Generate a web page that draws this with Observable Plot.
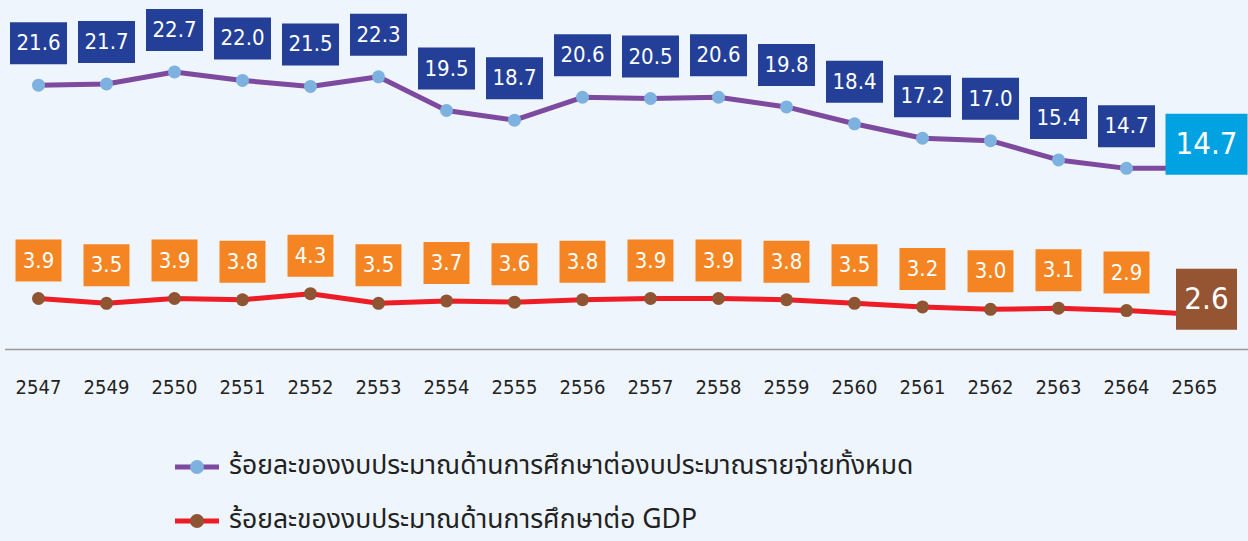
<!DOCTYPE html>
<html>
<head>
<meta charset="utf-8">
<script src="https://cdn.jsdelivr.net/npm/d3@7"></script>
<script src="https://cdn.jsdelivr.net/npm/@observablehq/plot@0.6"></script>
<style>
  html, body { margin: 0; padding: 0; background: #eef5fc; }
  #wrap { width: 1248px; height: 541px; overflow: hidden; background: #eef5fc; }
  .legend { margin-top: 20px; padding-left: 175px; font-family: "Noto Sans Thai", "Tahoma", "DejaVu Sans", sans-serif; color: #222; }
  .row { height: 54px; display: flex; align-items: center; font-size: 26.5px; }
  .row span { display: inline-block; line-height: 1.1; }
  .row svg { margin-right: 10px; }
</style>
</head>
<body>
<div id="wrap"><div id="chart"></div><div class="legend" id="legend"></div></div>
<script>
const years = ["2547","2549","2550","2551","2552","2553","2554","2555","2556","2557","2558","2559","2560","2561","2562","2563","2564","2565"];
const shareOfBudget = [21.6,21.7,22.7,22.0,21.5,22.3,19.5,18.7,20.6,20.5,20.6,19.8,18.4,17.2,17.0,15.4,14.7,14.7];
const shareOfGDP = [3.9,3.5,3.9,3.8,4.3,3.5,3.7,3.6,3.8,3.9,3.9,3.8,3.5,3.2,3.0,3.1,2.9,2.6];
const seriesNames = ["ร้อยละของงบประมาณด้านการศึกษาต่องบประมาณรายจ่ายทั้งหมด", "ร้อยละของงบประมาณด้านการศึกษาต่อ GDP"];

const colors = {
  purpleLine: "#7d4a9f", purpleDot: "#7db1e0", purpleBox: "#233f98", purpleLast: "#00a2e1",
  redLine: "#ee1c25", redDot: "#8f5431", redBox: "#f58522", redLast: "#955533"
};

const budget = years.map((year, i) => ({year, value: shareOfBudget[i]}));
const gdp = years.map((year, i) => ({year, value: shareOfGDP[i]}));
const budgetRest = budget.slice(0, -1), budgetLast = budget.slice(-1);
const gdpRest = gdp.slice(0, -1), gdpLast = gdp.slice(-1);

const box = (w, h) => ({draw(ctx) { ctx.rect(-w / 2, -h / 2, w, h); }});
const fmt = d => d.value.toFixed(1);
const yDomain = [-0.33, 28.63];

const chart = Plot.plot({
  width: 1248,
  height: 420,
  marginLeft: 4,
  marginRight: 20,
  marginTop: 0,
  marginBottom: 71,
  style: {background: "#eef5fc", fontFamily: "'DejaVu Sans Condensed', 'DejaVu Sans', sans-serif", overflow: "visible"},
  x: {type: "point", domain: years, padding: 0.5, label: null},
  y: {domain: yDomain, axis: null},
  marks: [
    Plot.ruleY([yDomain[0]], {stroke: "#9a9a9a", strokeWidth: 1.5, insetLeft: 1, insetRight: -20}),
    Plot.axisX({tickSize: 0, tickPadding: 30, fontSize: 20, fill: "#222", label: null}),
    Plot.line(budget, {x: "year", y: "value", stroke: colors.purpleLine, strokeWidth: 5}),
    Plot.line(gdp, {x: "year", y: "value", stroke: colors.redLine, strokeWidth: 5}),
    Plot.dot(budgetRest, {x: "year", y: "value", r: 6.5, fill: colors.purpleDot}),
    Plot.dot(gdpRest, {x: "year", y: "value", r: 6.5, fill: colors.redDot}),
    Plot.dot(budgetRest, {x: "year", y: "value", r: 20, symbol: box(57, 42), fill: colors.purpleBox, dy: -42}),
    Plot.text(budgetRest, {x: "year", y: "value", text: fmt, dy: -42, fill: "white", fontSize: 22}),
    Plot.dot(gdpRest, {x: "year", y: "value", r: 20, symbol: box(46, 42), fill: colors.redBox, dy: -38}),
    Plot.text(gdpRest, {x: "year", y: "value", text: fmt, dy: -38, fill: "white", fontSize: 22}),
    Plot.dot(budgetLast, {x: "year", y: "value", r: 30, symbol: box(82, 61), fill: colors.purpleLast, dx: 12, dy: -24}),
    Plot.text(budgetLast, {x: "year", y: "value", text: fmt, dx: 12, dy: -24, fill: "white", fontSize: 31}),
    Plot.dot(gdpLast, {x: "year", y: "value", r: 30, symbol: box(61, 61), fill: colors.redLast, dx: 12, dy: -15}),
    Plot.text(gdpLast, {x: "year", y: "value", text: fmt, dx: 12, dy: -15, fill: "white", fontSize: 31})
  ]
});
document.getElementById("chart").append(chart);

const legend = document.getElementById("legend");
[[colors.purpleLine, colors.purpleDot], [colors.redLine, colors.redDot]].forEach(([line, dot], i) => {
  const row = document.createElement("div");
  row.className = "row";
  row.innerHTML = `<svg width="44" height="16"><line x1="0" x2="44" y1="8" y2="8" stroke="${line}" stroke-width="5"/><circle cx="22" cy="8" r="7" fill="${dot}"/></svg><span>${seriesNames[i]}</span>`;
  legend.append(row);
});
</script>
</body>
</html>
